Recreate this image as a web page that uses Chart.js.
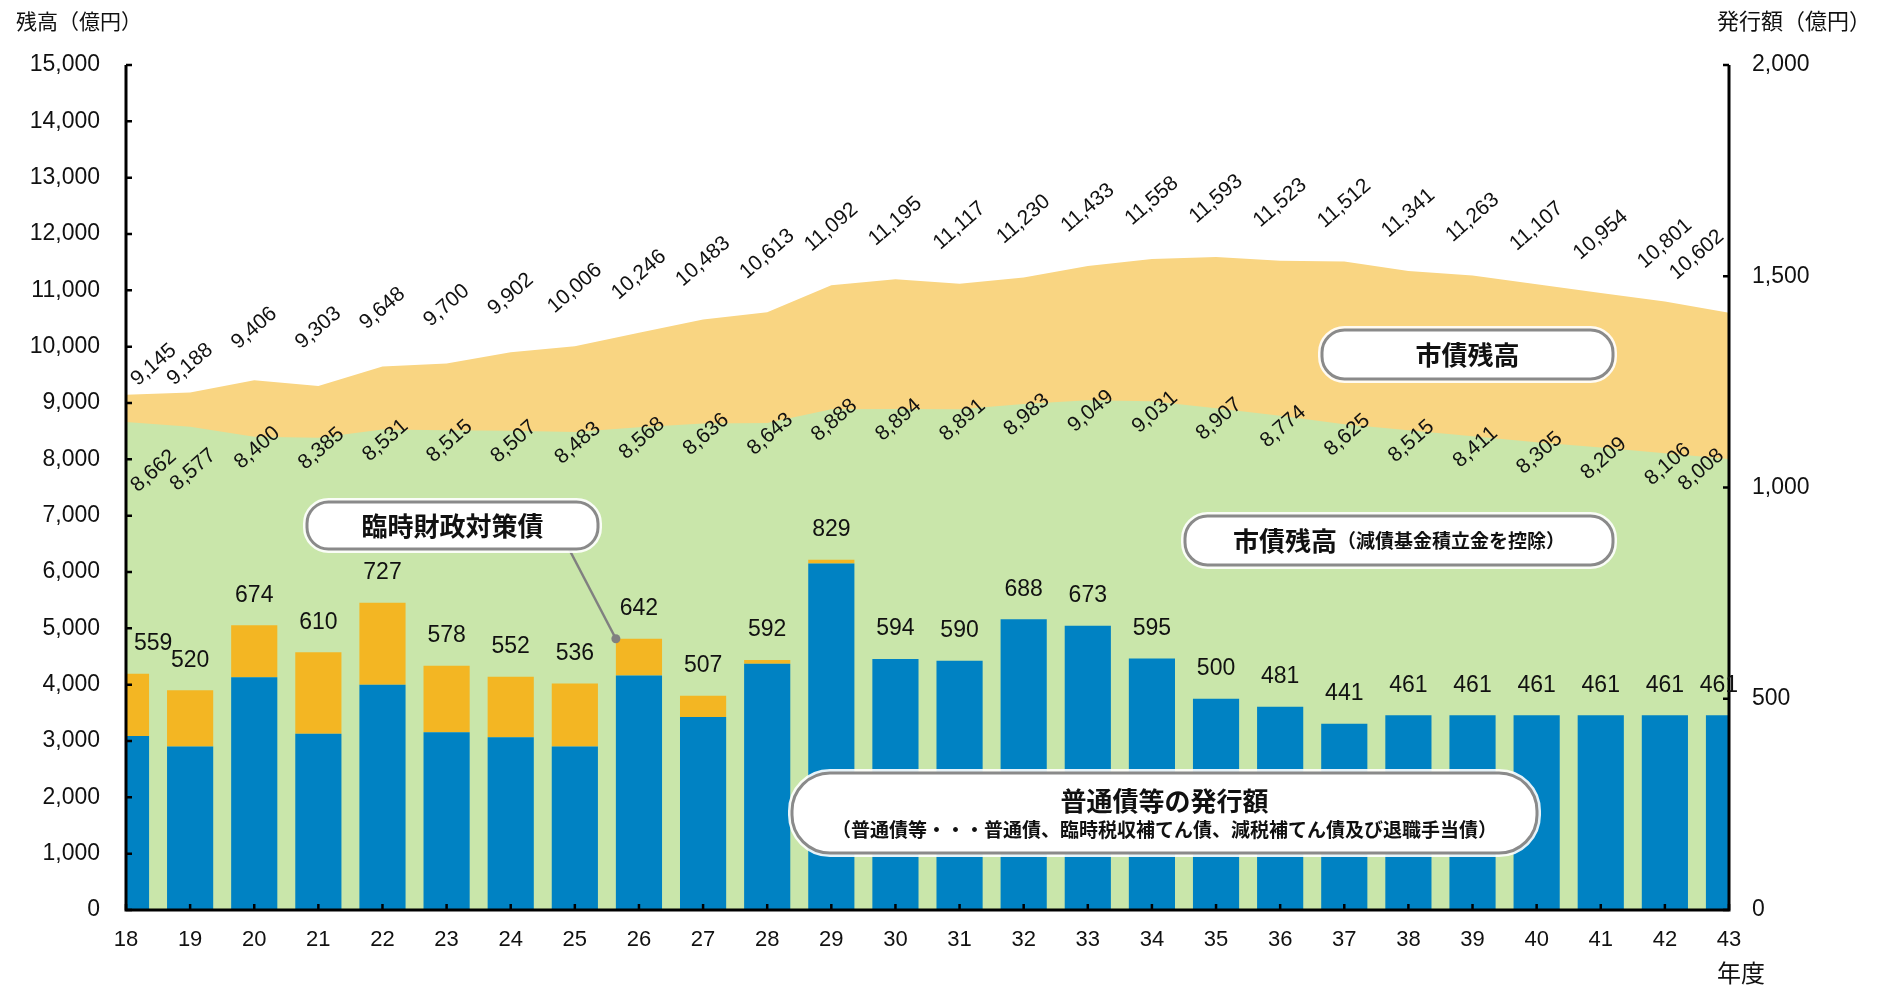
<!DOCTYPE html>
<html lang="ja">
<head>
<meta charset="utf-8">
<title>市債残高と発行額の推移</title>
<script src="https://cdn.jsdelivr.net/npm/chart.js@4.4.1/dist/chart.umd.min.js"></script>
<style>
    html, body { margin: 0; padding: 0; background: #fff; }
    #wrap { width: 1892px; height: 987px; }
</style>
</head>
<body>
<div id="wrap"><canvas id="chart" width="1892" height="987"></canvas></div>
<script>
// 年度
const years = ['18','19','20','21','22','23','24','25','26','27','28','29','30',
               '31','32','33','34','35','36','37','38','39','40','41','42','43'];

// 市債残高（億円）
const zandaka = [9145, 9188, 9406, 9303, 9648, 9700, 9902, 10006, 10246, 10483, 10613, 11092, 11195,
                 11117, 11230, 11433, 11558, 11593, 11523, 11512, 11341, 11263, 11107, 10954, 10801, 10602];

// 市債残高（減債基金積立金を控除）
const zandakaNet = [8662, 8577, 8400, 8385, 8531, 8515, 8507, 8483, 8568, 8636, 8643, 8888, 8894,
                    8891, 8983, 9049, 9031, 8907, 8774, 8625, 8515, 8411, 8305, 8209, 8106, 8008];

// 普通債等の発行額
const futsusai = [412, 387, 551, 417, 533, 421, 409, 387, 555, 457, 583, 820, 594,
                  590, 688, 673, 595, 500, 481, 441, 461, 461, 461, 461, 461, 461];

// 臨時財政対策債の発行額
const rinzai = [147, 133, 123, 193, 194, 157, 143, 149, 87, 50, 9, 9, 0,
                0, 0, 0, 0, 0, 0, 0, 0, 0, 0, 0, 0, 0];

// 目盛
const leftTicks = { min: 0, max: 15000, step: 1000 };
const rightTicks = { min: 0, max: 2000, step: 500 };

// 斜めラベルの個別調整（年度の位置 → 縦方向のずれ）
const topNudge = { 0: 28, 1: 30, 2: 6 };
const netNudge = { 0: 38, 1: 32 };

const LATIN = "'Liberation Sans', Arial, sans-serif";
const CJK = "'Noto Sans CJK JP', 'Noto Sans', sans-serif";

// 3桁区切り
function fmt(v) {
    return v.toLocaleString('en-US');
}

// 角丸の枠
function roundRect(ctx, x, y, w, h, r) {
    ctx.beginPath();
    ctx.moveTo(x + r, y);
    ctx.lineTo(x + w - r, y);
    ctx.arc(x + w - r, y + r, r, -Math.PI / 2, 0);
    ctx.lineTo(x + w, y + h - r);
    ctx.arc(x + w - r, y + h - r, r, 0, Math.PI / 2);
    ctx.lineTo(x + r, y + h);
    ctx.arc(x + r, y + h - r, r, Math.PI / 2, Math.PI);
    ctx.lineTo(x, y + r);
    ctx.arc(x + r, y + r, r, Math.PI, Math.PI * 1.5);
    ctx.closePath();
}

// 吹き出し（白地・灰色枠）
function drawCallout(ctx, box, lines) {
    const r = Math.min(box.h / 2 - 2, 38);
    ctx.save();
    roundRect(ctx, box.x, box.y, box.w, box.h, r);
    ctx.fillStyle = '#fff';
    ctx.fill();
    ctx.lineWidth = 8;
    ctx.strokeStyle = 'rgba(255,255,255,0.9)';
    ctx.stroke();
    ctx.lineWidth = 3;
    ctx.strokeStyle = '#8a8a8a';
    ctx.stroke();

    ctx.fillStyle = '#111';
    ctx.textBaseline = 'middle';
    ctx.textAlign = 'left';
    const cx = box.x + box.w / 2;
    lines.forEach(function(line) {
        // 1行を複数の部分（大小の文字）で組む
        let total = 0;
        line.parts.forEach(function(p) {
            ctx.font = p.font;
            total += ctx.measureText(p.text).width;
        });
        let x = cx - total / 2;
        line.parts.forEach(function(p) {
            ctx.font = p.font;
            ctx.fillText(p.text, x, line.y);
            x += ctx.measureText(p.text).width;
        });
    });
    ctx.restore();
}

// 回転した数値ラベル
function drawRotated(ctx, text, cx, cy, angle) {
    ctx.save();
    ctx.translate(cx, cy);
    ctx.rotate(angle);
    ctx.fillText(text, 0, 0);
    ctx.restore();
}

// 軸線・目盛・ラベル・吹き出しをまとめて描く
const overlayPlugin = {
    id: 'overlay',
    afterDraw(chart) {
        const ctx = chart.ctx;
        const area = chart.chartArea;
        const xs = chart.scales.x;
        const ys = chart.scales.y;
        const y1s = chart.scales.y1;

        ctx.save();

        // 軸線
        ctx.strokeStyle = '#000';
        ctx.lineWidth = 3;
        ctx.beginPath();
        ctx.moveTo(area.left, area.top);
        ctx.lineTo(area.left, area.bottom);
        ctx.lineTo(area.right, area.bottom);
        ctx.lineTo(area.right, area.top);
        ctx.stroke();

        // 内向きの目盛
        ctx.lineWidth = 2.5;
        ctx.beginPath();
        ys.ticks.forEach(function(t) {
            const py = ys.getPixelForValue(t.value);
            ctx.moveTo(area.left, py);
            ctx.lineTo(area.left + 6, py);
        });
        y1s.ticks.forEach(function(t) {
            const py = y1s.getPixelForValue(t.value);
            ctx.moveTo(area.right, py);
            ctx.lineTo(area.right - 6, py);
        });
        years.forEach(function(_, i) {
            const px = xs.getPixelForValue(i);
            ctx.moveTo(px, area.bottom);
            ctx.lineTo(px, area.bottom - 6);
        });
        ctx.stroke();

        // 発行額ラベル（棒の上）
        ctx.fillStyle = '#111';
        ctx.font = '23px ' + LATIN;
        ctx.textAlign = 'center';
        ctx.textBaseline = 'middle';
        years.forEach(function(_, i) {
            const total = futsusai[i] + rinzai[i];
            const text = fmt(total);
            const half = ctx.measureText(text).width / 2;
            let px = xs.getPixelForValue(i);
            px = Math.max(area.left + half + 8, Math.min(area.right - half + 9, px));
            const py = y1s.getPixelForValue(total) - 30;
            ctx.fillText(text, px, py);
        });

        // 残高ラベル（斜め）
        const ang = -41 * Math.PI / 180;
        ctx.font = '21px ' + LATIN;
        years.forEach(function(_, i) {
            [[zandaka, -58, 0, topNudge], [zandakaNet, 11, 3, netNudge]].forEach(function(s) {
                const text = fmt(s[0][i]);
                const w = ctx.measureText(text).width;
                const half = (w * Math.cos(-ang) + 15 * Math.sin(-ang)) / 2;
                let px = xs.getPixelForValue(i) + s[2];
                px = Math.max(area.left + half + 3, Math.min(area.right - half - 3, px));
                const py = ys.getPixelForValue(s[0][i]) + s[1] + (s[3][i] || 0);
                drawRotated(ctx, text, px, py, ang);
            });
        });

        // 軸タイトル
        ctx.font = '21px ' + CJK;
        ctx.textAlign = 'left';
        ctx.fillText('残高（億円）', 16, 21);
        ctx.font = '22px ' + CJK;
        ctx.textAlign = 'right';
        ctx.fillText('発行額（億円）', 1871, 21);
        ctx.font = '24px ' + CJK;
        ctx.textAlign = 'left';
        ctx.fillText('年度', 1717, 973);

        // 臨時財政対策債の引出線（26年度の棒の左上へ）
        const meta = chart.getDatasetMeta(3);
        const bar = meta.data[8];
        const tipX = bar.x - bar.width / 2;
        const tipY = y1s.getPixelForValue(futsusai[8] + rinzai[8]);
        ctx.strokeStyle = '#808080';
        ctx.fillStyle = '#808080';
        ctx.lineWidth = 2.5;
        ctx.beginPath();
        ctx.moveTo(569, 549);
        ctx.lineTo(tipX, tipY);
        ctx.stroke();
        ctx.beginPath();
        ctx.arc(tipX, tipY, 4.5, 0, Math.PI * 2);
        ctx.fill();

        // 吹き出し
        const big = 'bold 26px ' + CJK;
        const small = 'bold 19px ' + CJK;
        drawCallout(ctx, { x: 1322, y: 330, w: 291, h: 49 },
            [{ y: 355, parts: [{ text: '市債残高', font: big }] }]);
        drawCallout(ctx, { x: 1185, y: 516, w: 428, h: 49 },
            [{ y: 541, parts: [{ text: '市債残高', font: big }, { text: '（減債基金積立金を控除）', font: small }] }]);
        drawCallout(ctx, { x: 307, y: 502, w: 291, h: 47 },
            [{ y: 526, parts: [{ text: '臨時財政対策債', font: big }] }]);
        drawCallout(ctx, { x: 792, y: 773, w: 745, h: 80 },
            [{ y: 801, parts: [{ text: '普通債等の発行額', font: big }] },
             { y: 830, parts: [{ text: '（普通債等・・・普通債、臨時税収補てん債、減税補てん債及び退職手当債）', font: small }] }]);

        ctx.restore();
    }
};

// グラフ本体
const ctx = document.getElementById('chart').getContext('2d');
const chart = new Chart(ctx, {
    data: {
        labels: years,
        datasets: [
            {
                type: 'line',
                label: '市債残高',
                data: zandaka,
                yAxisID: 'y',
                fill: 'origin',
                backgroundColor: '#F9D582',
                borderWidth: 0,
                pointRadius: 0,
                tension: 0,
                order: 3
            },
            {
                type: 'line',
                label: '市債残高（減債基金積立金を控除）',
                data: zandakaNet,
                yAxisID: 'y',
                fill: 'origin',
                backgroundColor: '#C9E6AA',
                borderWidth: 0,
                pointRadius: 0,
                tension: 0,
                order: 2
            },
            {
                type: 'bar',
                label: '普通債等の発行額',
                data: futsusai,
                yAxisID: 'y1',
                backgroundColor: '#0082C3',
                barPercentage: 0.72,
                categoryPercentage: 1,
                stack: 'hakko',
                clip: 0,
                order: 1
            },
            {
                type: 'bar',
                label: '臨時財政対策債',
                data: rinzai,
                yAxisID: 'y1',
                backgroundColor: '#F3B623',
                barPercentage: 0.72,
                categoryPercentage: 1,
                stack: 'hakko',
                clip: 0,
                order: 1
            }
        ]
    },
    options: {
        responsive: false,
        animation: false,
        events: [],
        layout: { padding: { top: 65 } },
        plugins: {
            legend: { display: false },
            tooltip: { enabled: false }
        },
        scales: {
            x: {
                type: 'category',
                offset: false,
                stacked: true,
                grid: { display: false, drawTicks: false, offset: false },
                border: { display: false },
                ticks: {
                    color: '#111',
                    font: { family: LATIN, size: 22 },
                    padding: 17,
                    maxRotation: 0,
                    autoSkip: false
                },
                afterFit: function(scale) { scale.height = 77; }
            },
            y: {
                position: 'left',
                min: leftTicks.min,
                max: leftTicks.max,
                grid: { display: false, drawTicks: false },
                border: { display: false },
                ticks: {
                    stepSize: leftTicks.step,
                    color: '#111',
                    font: { family: LATIN, size: 23 },
                    padding: 26
                },
                afterFit: function(scale) { scale.width = 126; }
            },
            y1: {
                position: 'right',
                stacked: true,
                min: rightTicks.min,
                max: rightTicks.max,
                grid: { display: false, drawTicks: false },
                border: { display: false },
                ticks: {
                    stepSize: rightTicks.step,
                    color: '#111',
                    font: { family: LATIN, size: 23 },
                    padding: 23
                },
                afterFit: function(scale) { scale.width = 163; }
            }
        }
    },
    plugins: [overlayPlugin]
});
</script>
</body>
</html>
